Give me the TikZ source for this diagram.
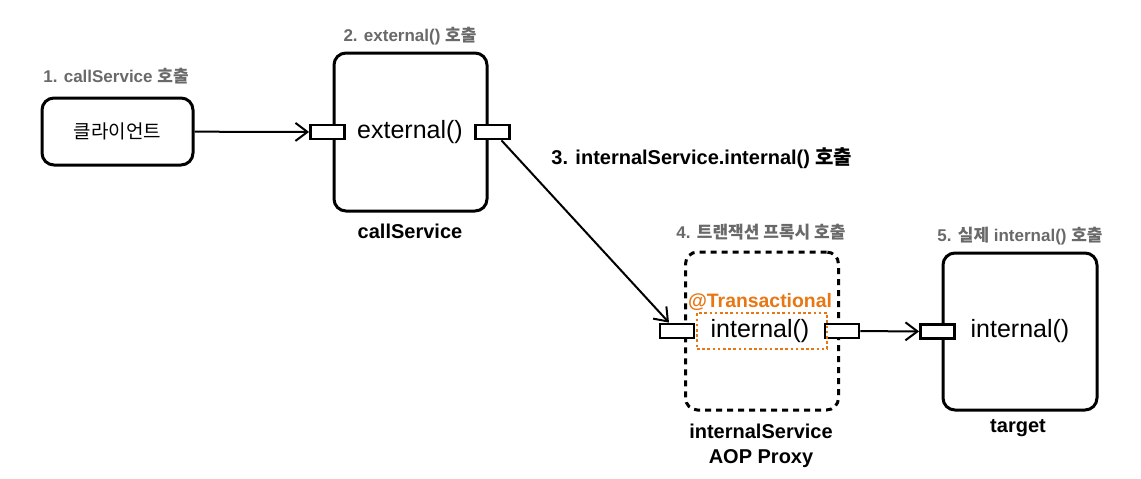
\documentclass[tikz,border=0pt]{standalone}
\usepackage{fontspec}
\setmainfont{Liberation Sans}
\newfontfamily\kr{Noto Sans CJK KR}
\usetikzlibrary{arrows.meta,positioning}
\definecolor{txorange}{RGB}{232,118,18}
\definecolor{stepgray}{RGB}{105,105,105}

\begin{document}
\begin{tikzpicture}[
    x=0.5pt, y=-0.5pt,
    box/.style={rectangle, draw=black, line width=1.5pt, rounded corners=6pt, minimum width=76.5pt, minimum height=79pt, inner sep=0pt},
    port/.style={rectangle, draw=black, line width=1.4pt, fill=white, minimum width=17pt, minimum height=7pt, inner sep=0pt},
    method/.style={font=\fontsize{12.5}{14}\selectfont, inner sep=0pt},
    steplabel/.style={font=\fontsize{8.5}{10}\selectfont\bfseries, text=stepgray, inner sep=0pt},
    caption/.style={font=\fontsize{10}{12.5}\selectfont\bfseries, align=center, inner sep=0pt},
    arrow/.style={-{Straight Barb[length=6pt,width=9pt]}, line width=1pt}
]
    \useasboundingbox (0,0) rectangle (1141,478);

    % client
    \node[box, minimum width=75.5pt, minimum height=33.5pt] (client) at (117.5,131.5) {\kr\fontsize{9.5}{11}\selectfont 클라이언트};
    \node[steplabel] (t1) at (116,76) {1. callService {\kr 호출}};

    % callService
    \node[box] (callsvc) at (410.5,132) {};
    \node[method] (extm) at (410,132) {external()};
    \node[port] (csin) at ([xshift=-2.5pt]callsvc.west) {};
    \node[port] (csout) at ([xshift=2pt]callsvc.east) {};
    \node[steplabel] (t2) at (410,36) {2. external() {\kr 호출}};
    \node[caption] (cscap) at (410,231) {callService};

    % proxy
    \node[box, dash pattern=on 3pt off 2.5pt] (proxy) at (762,331) {};
    \node[method] (pxm) at (760,331) {internal()};
    \node[port] (pxin) at ([xshift=-3.5pt]proxy.west) {};
    \node[port] (pxout) at ([xshift=1pt]proxy.east) {};
    \node[draw=txorange, line width=1.3pt, dash pattern=on 1.3pt off 1.3pt, minimum width=65pt, minimum height=18pt, inner sep=0pt] (txbox) at (762,331) {};
    \node[font=\fontsize{9.7}{11}\selectfont\bfseries, text=txorange, inner sep=0pt] (txlabel) at (760,302) {@Transactional};
    \node[steplabel] (t4) at (761,232) {4. {\kr 트랜잭션 프록시 호출}};
    \node[caption] (pxcap) at (761,445.5) {internalService\\AOP Proxy};

    % target
    \node[box, minimum width=77pt, minimum height=78.5pt] (target) at (1020,331.5) {};
    \node[method] (tgm) at (1020,331) {internal()};
    \node[port] (tgin) at ([xshift=-2pt]target.west) {};
    \node[steplabel] (t5) at (1020,236) {5. {\kr 실제} internal() {\kr 호출}};
    \node[caption] (tgcap) at (1018,428) {target};

    % calls
    \draw[arrow] (client) -- (csin);
    \draw[arrow] ([xshift=4.5pt]csout.south) -- ([xshift=-4pt]pxin.north);
    \node[font=\fontsize{10}{12}\selectfont\bfseries, anchor=west, inner sep=0pt] (t3) at (551,158) {3. internalService.internal() {\kr 호출}};
    \draw[arrow] (pxout) -- (tgin);
\end{tikzpicture}
\end{document}
